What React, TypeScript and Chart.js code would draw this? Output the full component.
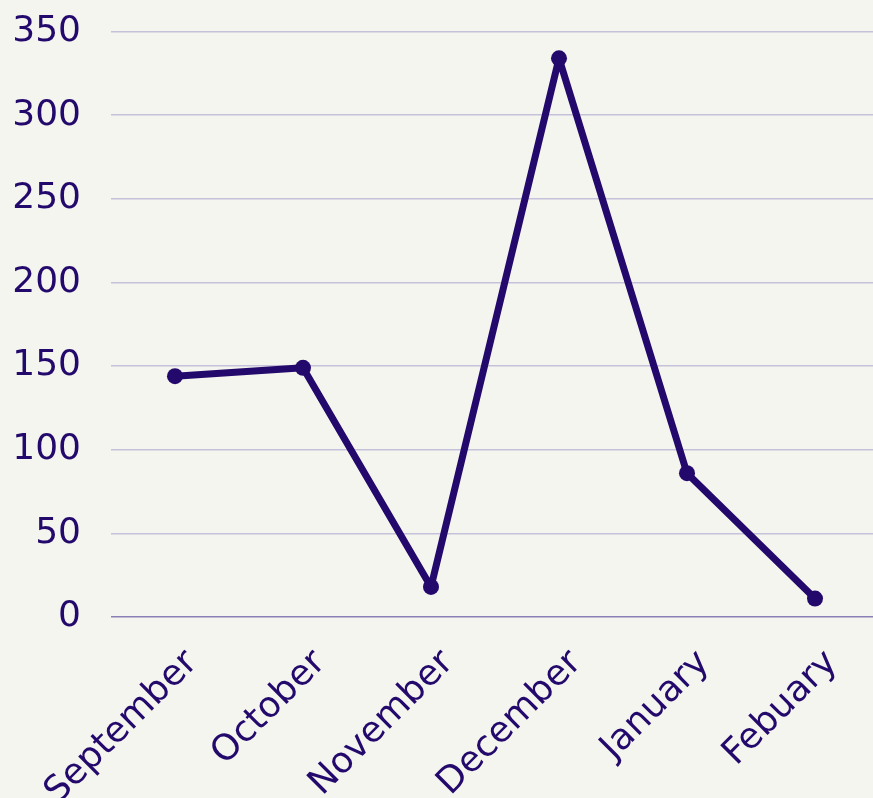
import React, { useEffect, useRef } from "react";
import { Chart, registerables } from "chart.js";

Chart.register(...registerables);

const months = ["September", "October", "November", "December", "January", "Febuary"];
const values = [144, 149, 18, 334, 86, 11];
const yTicks = [0, 50, 100, 150, 200, 250, 300, 350];

const INK = "#24096c";
const BG = "#f4f5ef";
const FONT = { family: "DejaVu Sans", size: 36, weight: 400 as any };

export default function App() {
  const ref = useRef<HTMLCanvasElement | null>(null);

  useEffect(() => {
    document.body.style.margin = "0";
    document.body.style.overflow = "hidden";
    document.body.style.background = BG;
    const ctx = ref.current!;
    const chart = new Chart(ctx, {
      type: "line",
      data: {
        labels: months,
        datasets: [
          {
            data: values,
            borderColor: INK,
            backgroundColor: INK,
            borderWidth: 7,
            borderJoinStyle: "round",
            borderCapStyle: "round",
            pointRadius: 8,
            pointHoverRadius: 8,
            pointBackgroundColor: INK,
            pointBorderWidth: 0,
            tension: 0,
          },
        ],
      },
      options: {
        animation: false,
        responsive: false,
        maintainAspectRatio: false,
        layout: { padding: { top: 0, right: 0, left: 0, bottom: 0 } },
        plugins: { legend: { display: false }, tooltip: { enabled: false } },
        scales: {
          x: {
            offset: true,
            grid: { display: false, drawTicks: false },
            border: { display: false },
            ticks: {
              color: INK,
              font: FONT,
              maxRotation: 45,
              minRotation: 45,
              padding: 25,
              labelOffset: 17,
              autoSkip: false,
            },
            afterFit: (s: any) => {
              s.height = 183;
            },
          },
          y: {
            min: 0,
            max: 350,
            afterBuildTicks: (s: any) => {
              s.ticks = yTicks.map((v) => ({ value: v }));
            },
            grid: {
              drawTicks: false,
              lineWidth: 1.5,
              color: (c: any) => (c.tick && c.tick.value === 0 ? "#8c80b8" : "#c6c1da"),
            },
            border: { display: false },
            ticks: {
              color: INK,
              font: FONT,
              padding: 30,
            },
            afterFit: (s: any) => {
              s.width = 111;
            },
          },
        },
      },
    });
    return () => chart.destroy();
  }, []);

  return (
    <div style={{ position: "absolute", left: 0, top: -20, width: 887, height: 820, background: BG }}>
      <canvas ref={ref} width={887} height={820} style={{ width: 887, height: 820, display: "block" }} />
    </div>
  );
}
